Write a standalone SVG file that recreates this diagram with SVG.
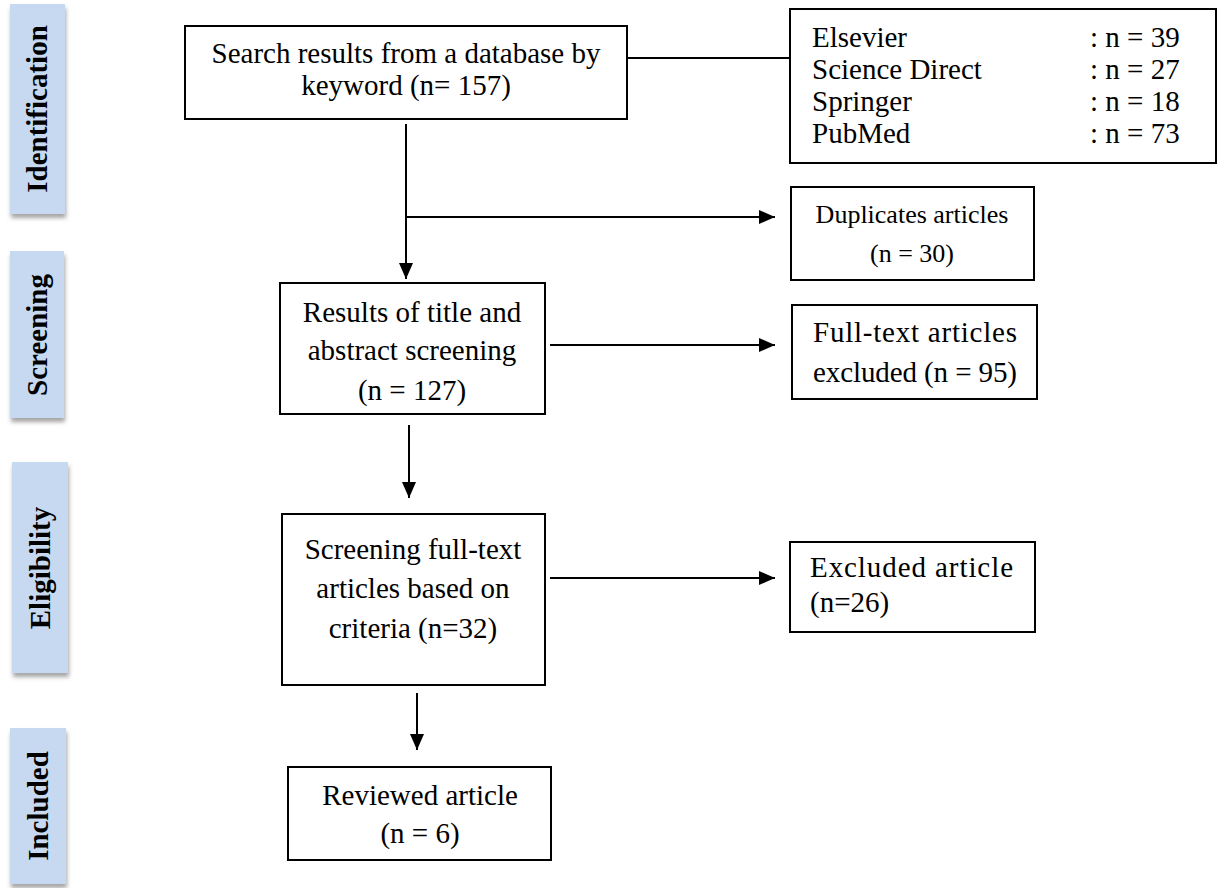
<svg xmlns="http://www.w3.org/2000/svg" width="1226" height="888" viewBox="0 0 1226 888">
<defs>
<filter id="sh" x="-20%" y="-10%" width="150%" height="125%">
<feDropShadow dx="1" dy="4" stdDeviation="2" flood-color="#7f7f7f" flood-opacity="0.7"/>
</filter>
<marker id="ah" markerUnits="userSpaceOnUse" markerWidth="16" markerHeight="14" refX="16" refY="7" orient="auto">
<path d="M0,0 L16,7 L0,14 z" fill="#000"/>
</marker>
</defs>
<style>
.lab{fill:#c6d9f1;filter:url(#sh)}
.lt{font-family:"Liberation Serif","Times New Roman",serif;font-weight:bold;font-size:29px;fill:#000;text-anchor:middle}
.box{fill:#fff;stroke:#000;stroke-width:2}
.t{font-family:"Liberation Serif","Times New Roman",serif;font-size:29px;fill:#000}
.c{text-anchor:middle}
.s{font-size:26px}
.con{stroke:#000;stroke-width:2;fill:none}
.arr{marker-end:url(#ah)}
</style>
<rect width="1226" height="888" fill="#fff"/>

<g id="label-identification">
<rect class="lab" x="10" y="4" width="55" height="210"/>
<text class="lt" transform="translate(47,109) rotate(-90)">Identification</text>
</g>
<g id="label-screening">
<rect class="lab" x="10" y="251" width="54" height="167"/>
<text class="lt" transform="translate(47,335) rotate(-90)">Screening</text>
</g>
<g id="label-eligibility">
<rect class="lab" x="12" y="462" width="56" height="211"/>
<text class="lt" transform="translate(50,568) rotate(-90)">Eligibility</text>
</g>
<g id="label-included">
<rect class="lab" x="10" y="728" width="56" height="156"/>
<text class="lt" transform="translate(48,806) rotate(-90)">Included</text>
</g>

<g id="connectors">
<path class="con" d="M627,58 H790"/>
<path class="con arr" d="M406,124 V279"/>
<path class="con arr" d="M406,217 H775"/>
<path class="con arr" d="M550,345 H775"/>
<path class="con arr" d="M409,425 V498"/>
<path class="con arr" d="M550,578 H775"/>
<path class="con arr" d="M417,693 V750"/>
</g>

<g id="node-search">
<rect class="box" x="185" y="26" width="442" height="93"/>
<text class="t c" x="406" y="63">Search results from a database by</text>
<text class="t c" x="406" y="95">keyword (n= 157)</text>
</g>

<g id="node-databases">
<rect class="box" x="790" y="9" width="426" height="154"/>
<text class="t" x="812" y="47">Elsevier</text>
<text class="t" x="812" y="79">Science Direct</text>
<text class="t" x="812" y="111">Springer</text>
<text class="t" x="812" y="143">PubMed</text>
<text class="t" x="1090" y="47">: n = 39</text>
<text class="t" x="1090" y="79">: n = 27</text>
<text class="t" x="1090" y="111">: n = 18</text>
<text class="t" x="1090" y="143">: n = 73</text>
</g>

<g id="node-duplicates">
<rect class="box" x="791" y="187" width="243" height="93"/>
<text class="t s c" x="912" y="223">Duplicates articles</text>
<text class="t s c" x="912" y="262">(n = 30)</text>
</g>

<g id="node-screening">
<rect class="box" x="280" y="283" width="265" height="131"/>
<text class="t c" x="412" y="322">Results of title and</text>
<text class="t c" x="412" y="360">abstract screening</text>
<text class="t c" x="412" y="400">(n = 127)</text>
</g>

<g id="node-fulltext-excluded">
<rect class="box" x="792" y="305" width="245" height="94"/>
<text class="t" x="813" y="342" textLength="204" lengthAdjust="spacing">Full-text articles</text>
<text class="t" x="813" y="382" textLength="204" lengthAdjust="spacing">excluded (n = 95)</text>
</g>

<g id="node-eligibility">
<rect class="box" x="282" y="514" width="263" height="171"/>
<text class="t c" x="413" y="559">Screening full-text</text>
<text class="t c" x="413" y="598">articles based on</text>
<text class="t c" x="413" y="638">criteria (n=32)</text>
</g>

<g id="node-excluded">
<rect class="box" x="790" y="542" width="245" height="90"/>
<text class="t" x="810" y="577" textLength="203" lengthAdjust="spacing">Excluded article</text>
<text class="t" x="810" y="612">(n=26)</text>
</g>

<g id="node-reviewed">
<rect class="box" x="288" y="767" width="263" height="93"/>
<text class="t c" x="420" y="805">Reviewed article</text>
<text class="t c" x="420" y="843">(n = 6)</text>
</g>
</svg>
